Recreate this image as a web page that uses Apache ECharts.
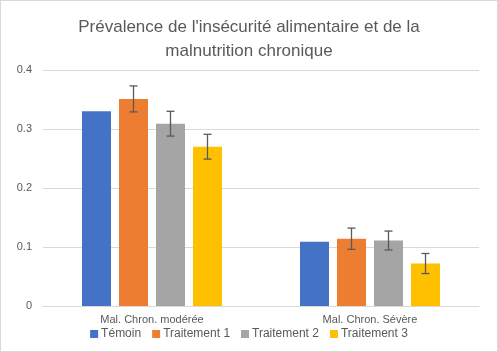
<!DOCTYPE html>
<html>
<head>
<meta charset="UTF-8">
<title>Prévalence</title>
<script src="https://cdn.jsdelivr.net/npm/echarts@6/dist/echarts.min.js"></script>
<style>
  html, body { margin: 0; padding: 0; background: #fff; }
  #chart { width: 498px; height: 352px; box-sizing: border-box; border: 1px solid #d9d9d9; }
</style>
</head>
<body>
<div id="chart"></div>
<script>
// données
var categories = ['Mal. Chron. modérée', 'Mal. Chron. Sévère'];
var seriesNames = ['Témoin', 'Traitement 1', 'Traitement 2', 'Traitement 3'];
var temoin = [0.33, 0.109];
var traitement1 = [0.351, 0.114];
var traitement2 = [0.309, 0.111];
var traitement3 = [0.27, 0.072];
// demi-largeur des barres d'erreur (null = pas de barre)
var errTemoin = [null, null];
var errT1 = [0.022, 0.018];
var errT2 = [0.021, 0.016];
var errT3 = [0.021, 0.017];
var yTicks = [0, 0.1, 0.2, 0.3, 0.4];

var colors = ['#4472c4', '#ed7d31', '#a5a5a5', '#ffc000'];
var values = [temoin, traitement1, traitement2, traitement3];
var errors = [errTemoin, errT1, errT2, errT3];
var BAR_W = 29, BAR_GAP = 8;
var font = 'Liberation Sans, Arial, sans-serif';

var chart = echarts.init(document.getElementById('chart'), null, { renderer: 'canvas' });

var series = [];
values.forEach(function (vals, i) {
  series.push({
    name: seriesNames[i],
    type: 'bar',
    data: vals,
    barWidth: BAR_W,
    barGap: (BAR_GAP / BAR_W * 100) + '%',
    itemStyle: { color: colors[i] },
    z: 2
  });
});

// barres d'erreur
values.forEach(function (vals, i) {
  var errData = [];
  vals.forEach(function (v, c) {
    if (errors[i][c] != null) errData.push([c, v, errors[i][c]]);
  });
  if (!errData.length) return;
  series.push({
    type: 'custom',
    name: seriesNames[i] + ' err',
    data: errData,
    z: 5,
    silent: true,
    renderItem: function (params, api) {
      var c = api.value(0), v = api.value(1), e = api.value(2);
      var off = (i - 1.5) * (BAR_W + BAR_GAP);
      var hi = api.coord([c, v + e]);
      var lo = api.coord([c, v - e]);
      var x = hi[0] + off;
      var cap = 4;
      var st = { stroke: '#595959', lineWidth: 1.3 };
      return {
        type: 'group',
        children: [
          { type: 'line', shape: { x1: x, y1: hi[1], x2: x, y2: lo[1] }, style: st },
          { type: 'line', shape: { x1: x - cap, y1: hi[1], x2: x + cap, y2: hi[1] }, style: st },
          { type: 'line', shape: { x1: x - cap, y1: lo[1], x2: x + cap, y2: lo[1] }, style: st }
        ]
      };
    }
  });
});

var option = {
  animation: false,
  title: {
    text: "Prévalence de l'insécurité alimentaire et de la\nmalnutrition chronique",
    left: 'center',
    top: 9,
    textStyle: { color: '#595959', fontSize: 17, fontWeight: 'normal', fontFamily: font, lineHeight: 24 }
  },
  legend: {
    data: seriesNames,
    bottom: 6,
    left: 'center',
    itemWidth: 8,
    itemHeight: 8,
    itemGap: 11,
    icon: 'rect',
    textStyle: { color: '#595959', fontSize: 12, fontFamily: font, padding: [0, 0, 0, -2] }
  },
  grid: { left: 42, right: 18, top: 69, bottom: 45 },
  xAxis: {
    type: 'category',
    data: categories,
    axisLine: { lineStyle: { color: '#d9d9d9' } },
    axisTick: { show: false },
    axisLabel: { color: '#595959', fontSize: 11, fontFamily: font, margin: 8 }
  },
  yAxis: {
    type: 'value',
    min: yTicks[0],
    max: yTicks[yTicks.length - 1],
    interval: 0.1,
    axisLine: { show: false },
    axisTick: { show: false },
    splitLine: { lineStyle: { color: '#d9d9d9' } },
    axisLabel: { color: '#595959', fontSize: 11, fontFamily: font, margin: 11 }
  },
  series: series
};

chart.setOption(option);
</script>
</body>
</html>
